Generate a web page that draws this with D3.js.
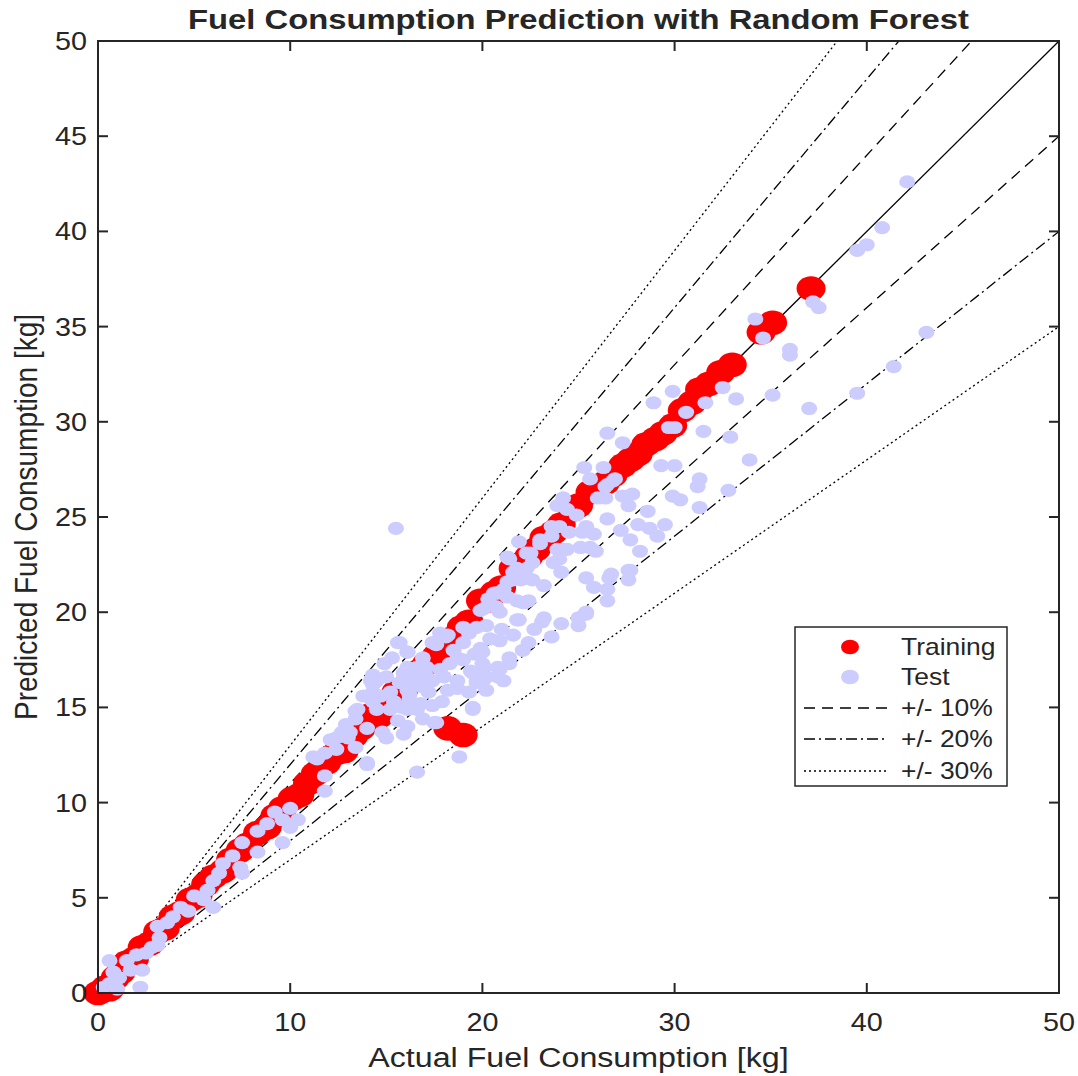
<!DOCTYPE html>
<html>
<head>
<meta charset="utf-8">
<script src="https://cdn.jsdelivr.net/npm/d3@7"></script>
<style>
  body { margin: 0; background: #fff; }
  text { font-family: Arial, "Liberation Sans", sans-serif; fill: #262626; }
</style>
</head>
<body>
<div id="chart"></div>
<script>
// training points [actual, predicted]
var trainData = [
  [0.0,0.0],[0.2,0.1],[0.4,0.3],[0.6,0.2],[0.9,0.8],[1.2,1.1],[1.5,1.6],[1.9,1.8],[2.3,2.4],[2.7,2.6],[3.1,3.2],
  [3.5,3.4],[3.9,4.0],[4.3,4.2],[4.8,4.9],[5.2,5.1],[5.6,5.7],[6.0,6.1],[6.5,6.4],[6.9,7.0],[7.4,7.5],
  [7.8,7.8],[8.3,8.4],[8.8,8.7],[9.2,9.3],[9.6,9.7],[10.1,10.2],[10.5,10.4],[10.9,11.0],[11.3,11.5],[11.9,12.1],
  [12.4,12.6],[12.8,12.7],[13.3,13.5],[13.7,13.9],[14.2,14.6],[14.6,14.5],[15.0,15.2],[15.5,15.8],[15.9,15.9],[16.3,16.6],
  [16.7,16.9],[17.1,17.3],[17.6,17.7],[18.0,18.3],[18.4,18.6],[18.9,19.2],[19.3,19.5],[19.9,20.6],[20.2,20.6],[20.6,21.0],
  [21.0,21.3],[21.6,22.3],[21.9,22.5],[22.4,22.9],[22.8,23.3],[23.2,23.9],[23.7,24.2],[24.1,24.6],[24.7,25.4],[25.0,25.6],
  [25.6,26.3],[25.9,26.4],[26.4,26.8],[26.8,27.2],[27.3,27.7],[27.7,28.0],[28.1,28.3],[28.5,28.8],[29.0,29.1],[29.4,29.4],
  [29.9,29.8],[30.4,30.6],[30.9,31.0],[31.3,31.7],[31.8,32.0],[32.4,32.6],[33.0,33.0],[34.5,34.7],[35.1,35.2],[37.1,37.0],
  [18.2,13.9],[19.0,13.55]
];

// test points [actual, predicted]
var testData = [
  [42.1,42.6],[40.8,40.2],[40.0,39.3],[39.5,39.0],[37.2,36.3],[37.5,36.0],[36.0,33.8],[36.0,33.5],[34.6,34.4],[34.2,35.4],
  [43.1,34.7],[41.4,32.9],[39.5,31.5],[37.0,30.7],[35.1,31.4],[33.2,31.2],[32.5,31.8],[31.6,31.0],[30.6,30.5],[29.9,31.6],
  [28.9,31.0],[30.0,29.7],[29.7,29.7],[31.5,29.5],[32.9,29.2],[26.5,29.4],[27.3,28.9],[33.9,28.0],[32.8,26.4],[31.3,27.0],
  [31.2,26.6],[31.3,25.5],[29.9,26.1],[30.3,25.9],[29.5,24.6],[29.1,24.0],[28.7,24.4],[28.1,24.6],[28.6,25.3],[27.7,23.8],
  [28.2,23.2],[27.2,24.3],[27.6,25.6],[27.3,26.1],[27.8,26.2],[26.5,24.9],[26.7,22.0],[27.6,22.2],[29.3,27.7],[30.0,27.7],
  [26.8,26.9],[26.4,26.6],[26.4,26.0],[26.3,27.6],
  [25.3,27.6],[25.6,27.0],[26.5,26.7],[26.9,27.0],[26.0,26.0],[24.2,26.0],[23.9,25.6],[24.4,25.4],[24.9,25.1],[23.6,24.5],
  [24.0,24.5],[24.5,24.2],[25.4,24.5],[25.8,24.1],[25.1,23.4],[25.9,23.2],[21.9,23.7],[21.4,22.8],[23.0,23.6],[22.5,23.1],
  [22.6,22.6],[24.2,23.3],[23.7,22.6],[24.1,22.1],[23.2,21.4],[22.3,21.8],[22.0,21.7],[21.6,21.7],[21.1,21.2],[20.6,21.0],
  [19.9,20.1],[21.8,20.6],[22.1,20.5],[20.9,20.0],[21.9,19.6],[23.2,19.7],[24.1,19.4],[25.0,19.7],[25.4,20.0],[25.4,21.8],
  [25.8,21.3],[26.6,21.8],[26.5,21.2],[26.5,20.6],[27.7,22.2],[27.6,21.7],
  [21.3,22.9],[23.9,23.3],[25.2,24.2],[25.6,23.4],[22.3,22.3],[22.6,21.7],[21.6,22.1],[21.3,21.6],[20.3,20.7],[22.2,20.5],
  [25.0,19.3],[25.4,19.9],[21.8,19.6],[21.0,19.1],[20.9,18.5],[22.4,18.4],[23.6,18.7],[22.1,18.0],[21.4,17.6],[21.4,17.3],
  [20.8,17.1],[20.8,16.6],[20.1,16.5],[19.7,16.3],[20.1,17.1],[20.0,17.9],[19.5,16.8],[19.3,15.8],[19.5,15.0],[18.7,16.4],
  [19.0,17.5],[18.7,16.0],[18.2,15.9],[17.9,15.3],[17.4,15.1],[16.8,15.2],[16.2,15.7],[16.1,17.9],[15.7,18.4],[18.1,18.7],
  [17.6,18.3],[19.0,18.4],[19.3,18.9],[19.7,19.2],[20.2,19.3],[20.7,20.3],[20.8,21.0],[21.3,20.8],[21.8,22.3],[22.3,23.1],
  [23.0,23.8],[23.6,24.0],[24.4,23.3],[24.0,22.8],[15.5,24.4],[16.6,17.1],[16.1,17.1],[17.1,16.6],[16.4,16.4],[15.7,16.3],
  [16.1,15.9],
  [15.6,18.4],[16.1,17.9],[14.9,17.3],[14.3,16.7],[14.2,16.4],[14.5,16.4],[15.0,16.6],[14.3,15.8],[14.3,15.3],[14.5,14.9],
  [15.2,15.8],[15.2,14.9],[13.5,14.9],[13.4,14.4],[14.0,13.9],[13.1,13.7],[13.0,13.4],[12.4,13.4],[12.1,13.3],[13.4,12.9],
  [12.4,12.8],[11.8,12.6],[11.4,12.3],[14.0,12.0],[11.8,11.4],[11.8,10.6],[16.6,11.6],[14.8,13.7],[15.0,13.4],[15.6,14.3],
  [16.1,14.0],[16.1,14.9],[15.4,15.3],[16.8,16.1],[17.1,16.6],[17.4,18.4],[17.1,17.1],[17.4,16.4],[16.2,15.4],[16.6,14.9],
  [17.6,14.2],
  [21.9,22.1],[20.7,21.0],[20.1,20.2],[22.4,20.6],[23.1,19.5],[19.9,18.1],[20.0,17.3],[19.0,19.2],[19.3,19.0],[18.2,18.8],
  [18.7,17.6],[19.4,16.9],[20.2,16.6],[20.9,17.0],[21.1,16.4],[19.7,16.4],[20.2,15.9],[19.5,14.9],[17.5,14.2],[18.8,12.4],
  [14.0,12.1],[12.7,13.7],[13.4,14.8],[14.3,16.2],[17.0,17.0],[11.2,12.4],
  [16.9,17.6],[17.8,17.0],[18.3,17.3],[15.9,16.8],[15.3,17.6],[14.7,15.6],[17.2,15.8],[18.0,16.6],[16.5,16.6],[15.8,15.0],
  [13.8,15.6],[12.9,14.1],[18.5,18.0],[17.8,18.9],[19.6,17.8],[16.9,14.4],[15.9,13.6],[20.4,18.6],[21.6,18.8],[22.7,19.1],
  [10.0,9.7],[10.4,9.1],[9.6,9.1],[10.0,8.7],[9.6,7.9],[8.3,8.5],[8.3,7.4],[7.5,7.9],[7.0,7.2],[6.5,6.8],
  [7.4,6.6],[7.5,6.3],[6.3,6.3],[6.0,5.9],[5.7,5.4],[6.0,4.5],[5.5,4.9],[4.3,4.5],[3.9,4.0],[3.6,3.7],
  [3.1,3.5],[3.2,2.9],[2.8,2.4],[3.1,2.5],[2.0,2.0],[1.5,1.7],[0.6,1.7],[1.7,1.2],[2.3,1.2],[1.1,0.8],
  [0.6,0.5],[2.2,0.3],[1.0,0.2],[0.3,0.3],[9.2,9.5],[8.8,8.9],[4.7,4.3],[5.0,5.1],[2.5,2.1],[0.8,1.1]
];

// reference lines: slope and style
var slopes = [1, 1.1, 0.9, 1.2, 0.8, 1.3, 0.7];
var slopeStyle = { 1: "solid", 1.1: "dash", 0.9: "dash", 1.2: "dashdot", 0.8: "dashdot", 1.3: "dot", 0.7: "dot" };
var legendLabels = ["Training", "Test", "+/- 10%", "+/- 20%", "+/- 30%"];

var xTicks = [0, 10, 20, 30, 40, 50];
var yTicks = [0, 5, 10, 15, 20, 25, 30, 35, 40, 45, 50];

var W = 1078, H = 1076;
var pL = 98, pR = 1059, pT = 41, pB = 993;
var sx = 1.15; // horizontal text stretch

var dashes = { solid: null, dash: "11,7", dashdot: "11,4,2,4", dot: "2,3" };

var svg = d3.select("#chart").append("svg")
  .attr("width", W)
  .attr("height", H);

var x = d3.scaleLinear().domain([0, 50]).range([pL, pR]);
var y = d3.scaleLinear().domain([0, 50]).range([pB, pT]);

svg.append("clipPath").attr("id", "clip")
  .append("rect")
  .attr("x", pL).attr("y", pT)
  .attr("width", pR - pL).attr("height", pB - pT);

// diagonal lines (clipped to the axes)
svg.append("g").attr("clip-path", "url(#clip)")
  .selectAll(".ref")
  .data(slopes)
  .enter()
  .append("line")
  .attr("class", "ref")
  .attr("x1", x(0)).attr("y1", y(0))
  .attr("x2", (d) => x(Math.min(50, 50 / d)))
  .attr("y2", (d) => y(Math.min(50, 50 / d) * d))
  .attr("stroke", "#000")
  .attr("stroke-width", 1.3)
  .attr("stroke-dasharray", (d) => dashes[slopeStyle[d]]);

// markers (not clipped, they spill over the axes at the origin)
var plot = svg.append("g");

plot.selectAll(".train")
  .data(trainData)
  .enter()
  .append("ellipse")
  .attr("class", "train")
  .attr("cx", (d) => x(d[0]))
  .attr("cy", (d) => y(d[1]))
  .attr("rx", 14.5)
  .attr("ry", 12.3)
  .attr("fill", "#ff0000");

plot.selectAll(".test")
  .data(testData)
  .enter()
  .append("ellipse")
  .attr("class", "test")
  .attr("cx", (d) => x(d[0]))
  .attr("cy", (d) => y(d[1]))
  .attr("rx", 8)
  .attr("ry", 6.6)
  .attr("fill", "#ccccff");

// axes box with inward ticks on all sides
var axisColor = "#262626";
var tickLen = 10;

svg.append("rect")
  .attr("x", pL).attr("y", pT)
  .attr("width", pR - pL).attr("height", pB - pT)
  .attr("fill", "none")
  .attr("stroke", axisColor)
  .attr("stroke-width", 2);

var xt = svg.append("g");
xt.selectAll(".xb").data(xTicks).enter().append("line")
  .attr("x1", (d) => x(d)).attr("x2", (d) => x(d))
  .attr("y1", pB).attr("y2", pB - tickLen)
  .attr("stroke", axisColor).attr("stroke-width", 2);
xt.selectAll(".xt").data(xTicks).enter().append("line")
  .attr("x1", (d) => x(d)).attr("x2", (d) => x(d))
  .attr("y1", pT).attr("y2", pT + tickLen)
  .attr("stroke", axisColor).attr("stroke-width", 2);
xt.selectAll("text").data(xTicks).enter().append("text")
  .attr("transform", (d) => "translate(" + x(d) + "," + (pB + 38) + ") scale(" + sx + ",1)")
  .attr("text-anchor", "middle")
  .attr("font-size", 25)
  .text((d) => d);

var yt = svg.append("g");
yt.selectAll(".yl").data(yTicks).enter().append("line")
  .attr("x1", pL).attr("x2", pL + tickLen)
  .attr("y1", (d) => y(d)).attr("y2", (d) => y(d))
  .attr("stroke", axisColor).attr("stroke-width", 2);
yt.selectAll(".yr").data(yTicks).enter().append("line")
  .attr("x1", pR).attr("x2", pR - tickLen)
  .attr("y1", (d) => y(d)).attr("y2", (d) => y(d))
  .attr("stroke", axisColor).attr("stroke-width", 2);
yt.selectAll("text").data(yTicks).enter().append("text")
  .attr("transform", (d) => "translate(" + (pL - 11) + "," + (y(d) + 9) + ") scale(" + sx + ",1)")
  .attr("text-anchor", "end")
  .attr("font-size", 25)
  .text((d) => d);

// title and axis labels
svg.append("text")
  .attr("transform", "translate(" + ((pL + pR) / 2) + ",29) scale(" + sx + ",1)")
  .attr("text-anchor", "middle")
  .attr("font-size", 28.5)
  .attr("font-weight", "bold")
  .attr("fill", "#000")
  .text("Fuel Consumption Prediction with Random Forest");

svg.append("text")
  .attr("transform", "translate(" + ((pL + pR) / 2) + ",1067) scale(" + sx + ",1)")
  .attr("text-anchor", "middle")
  .attr("font-size", 28)
  .text("Actual Fuel Consumption [kg]");

svg.append("text")
  .attr("transform", "translate(37," + ((pT + pB) / 2) + ") scale(" + sx + ",1) rotate(-90)")
  .attr("text-anchor", "middle")
  .attr("font-size", 28)
  .text("Predicted Fuel Consumption [kg]");

// legend
var lg = svg.append("g").attr("transform", "translate(795,627)");
lg.append("rect")
  .attr("width", 212).attr("height", 159)
  .attr("fill", "#fff")
  .attr("stroke", axisColor)
  .attr("stroke-width", 1.5);

var rowY = [20, 50, 81, 112, 144];
var legendStyle = ["train", "test", "dash", "dashdot", "dot"];

legendLabels.forEach(function(label, i) {
  var s = legendStyle[i];
  if (s === "train" || s === "test") {
    lg.append("ellipse")
      .attr("cx", 55).attr("cy", rowY[i])
      .attr("rx", 9).attr("ry", 7.3)
      .attr("fill", s === "train" ? "#ff0000" : "#ccccff");
  } else {
    lg.append("line")
      .attr("x1", 9).attr("x2", 93)
      .attr("y1", rowY[i]).attr("y2", rowY[i])
      .attr("stroke", "#000").attr("stroke-width", 1.3)
      .attr("stroke-dasharray", dashes[s]);
  }
  lg.append("text")
    .attr("transform", "translate(106," + (rowY[i] + 8) + ") scale(" + sx + ",1)")
    .attr("font-size", 23)
    .attr("fill", "#000")
    .text(label);
});
</script>
</body>
</html>
